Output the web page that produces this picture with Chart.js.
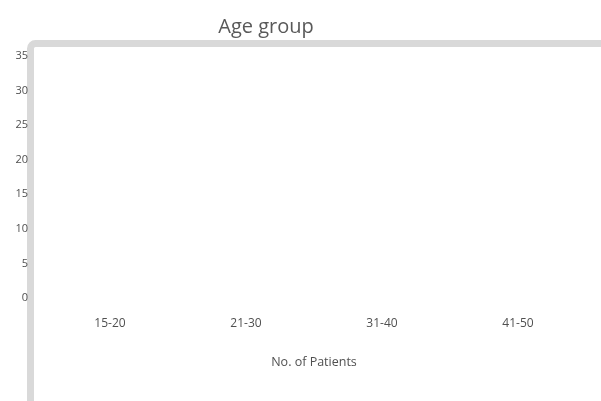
<!DOCTYPE html>
<html>
<head>
<meta charset="utf-8">
<title>Age group</title>
<script src="https://cdn.jsdelivr.net/npm/chart.js@4"></script>
<style>
    body { margin: 0; background: #ffffff; overflow: hidden; }
    #wrap { width: 601px; height: 401px; }
</style>
</head>
<body>
<div id="wrap"><canvas id="mycanvas" width="601" height="401"></canvas></div>
<script>
// chart values
const ageGroups = ['15-20', '21-30', '31-40', '41-50'];
const patients = [0, 0, 0, 0];   // no bars are drawn in the picture
const yTicks = [0, 5, 10, 15, 20, 25, 30, 35];

const chartTitle = 'Age group';
const xTitle = 'No. of Patients';

// grey frame round the plot and the title text above it
const framePlugin = {
    id: 'framePlugin',
    beforeDraw(chart) {
        const ctx = chart.ctx;
        ctx.save();
        ctx.strokeStyle = '#d9d9d9';
        ctx.lineWidth = 7;
        ctx.beginPath();
        if (ctx.roundRect) {
            ctx.roundRect(30.5, 43.5, 800, 600, 5);
        } else {
            ctx.rect(30.5, 43.5, 800, 600);
        }
        ctx.stroke();
        ctx.restore();
    },
    afterDraw(chart) {
        const ctx = chart.ctx;
        ctx.save();
        ctx.font = '20px "Open Sans"';
        ctx.fillStyle = '#595959';
        ctx.textAlign = 'center';
        ctx.textBaseline = 'middle';
        ctx.fillText(chartTitle, 266, 27);
        ctx.restore();
    }
};

let ctx = document.getElementById('mycanvas').getContext('2d');

new Chart(ctx, {
    type: 'bar',
    data: {
        labels: ageGroups,
        datasets: [{
            label: xTitle,
            data: patients,
            backgroundColor: '#4472c4',
            borderWidth: 0
        }]
    },
    options: {
        responsive: false,
        animation: false,
        layout: {
            padding: { top: 56, right: 15, bottom: 0, left: 0 }
        },
        plugins: {
            legend: { display: false },
            tooltip: { enabled: false },
            title: { display: false }
        },
        scales: {
            x: {
                grid: { display: false, drawTicks: false },
                border: { display: false },
                ticks: {
                    padding: 18,
                    color: '#505050',
                    font: { family: 'Open Sans', size: 12 },
                    maxRotation: 0
                },
                title: {
                    display: true,
                    text: xTitle,
                    color: '#505050',
                    font: { family: 'Open Sans', size: 12.5 },
                    padding: { top: 0, bottom: 31 }
                },
                afterFit: function(scale) { scale.height = 103; }
            },
            y: {
                min: 0,
                max: 35,
                grid: { display: false, drawTicks: false },
                border: { display: false },
                afterBuildTicks: function(scale) {
                    scale.ticks = yTicks.map(v => ({ value: v }));
                },
                ticks: {
                    padding: 14,
                    color: '#505050',
                    font: { family: 'Open Sans', size: 11 }
                },
                afterFit: function(scale) { scale.width = 42; }
            }
        }
    },
    plugins: [framePlugin]
});
</script>
</body>
</html>
